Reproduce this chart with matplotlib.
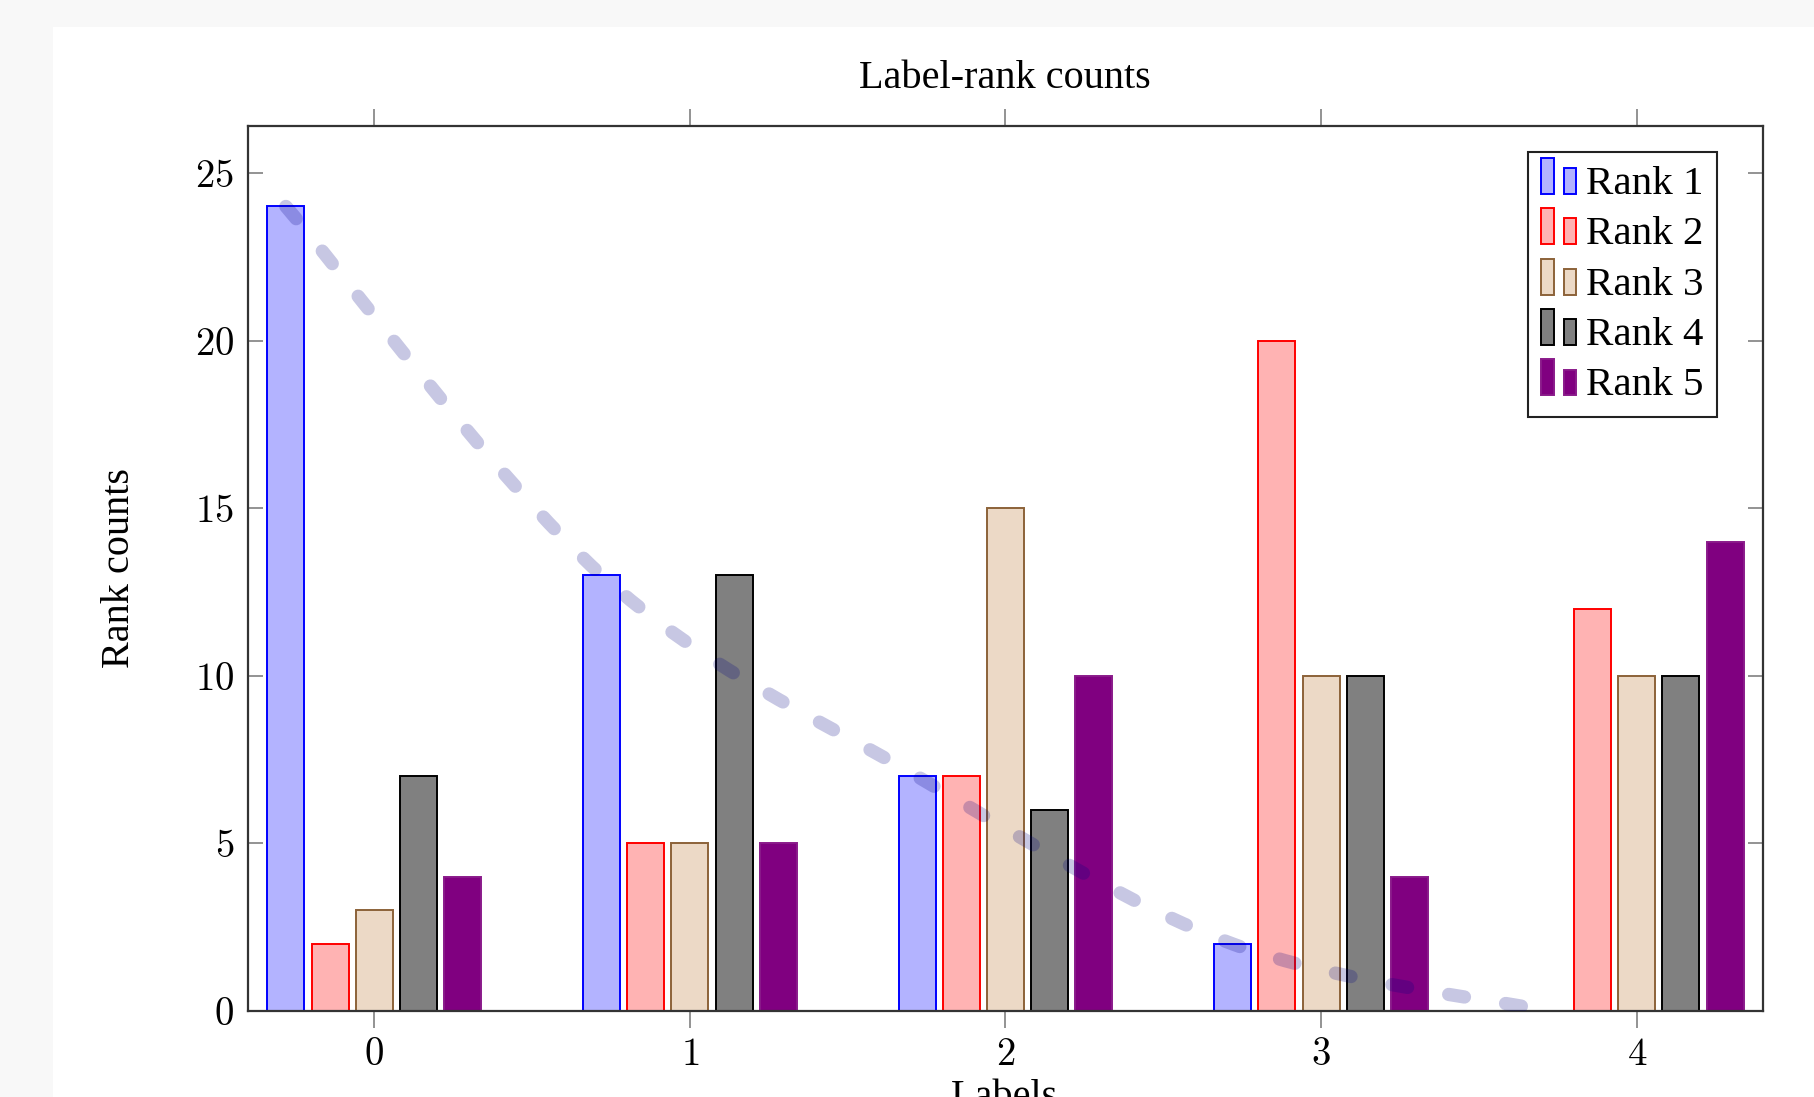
import matplotlib
matplotlib.use("Agg")
import matplotlib.pyplot as plt
import numpy as np
from matplotlib.patches import Rectangle, PathPatch, Patch
from matplotlib.path import Path

# data
labels = [0, 1, 2, 3, 4]
rank1 = [24, 13, 7, 2, 0]
rank2 = [2, 5, 7, 20, 12]
rank3 = [3, 5, 15, 10, 10]
rank4 = [7, 13, 6, 10, 10]
rank5 = [4, 5, 10, 4, 14]
series = [rank1, rank2, rank3, rank4, rank5]
names = ["Rank 1", "Rank 2", "Rank 3", "Rank 4", "Rank 5"]
yticks = [0, 5, 10, 15, 20, 25]

fills = ["#b3b3ff", "#ffb3b3", "#ecd9c6", "#808080", "#800080"]
edges = ["#0000ff", "#ff0000", "#8c6239", "#000000", "#8a1a8a"]

plt.rcParams["font.family"] = ["Liberation Serif", "DejaVu Serif"]
plt.rcParams["mathtext.fontset"] = "cm"
plt.rcParams["lines.scale_dashes"] = False

W, H = 1815, 1097
fig = plt.figure(figsize=(W / 100, H / 100), dpi=100, facecolor="#f8f8f8")
fig.add_artist(Rectangle((53 / W, 0), 1, 1 - 27 / H, transform=fig.transFigure,
                         facecolor="white", edgecolor="none", zorder=-10))

ax = fig.add_axes([248 / W, 1 - 1011 / H, (1763 - 248) / W, (1011 - 126) / H])

x = np.arange(len(labels))
width = 0.117
step = 0.14
for i, vals in enumerate(series):
    ax.bar(x + (i - 2) * step, vals, width=width, color=fills[i],
           edgecolor=edges[i], linewidth=1.4, zorder=2)

# smooth dashed curve through the tops of the Rank 1 bars
pts = np.column_stack([x - 2 * step, rank1]).astype(float)
n = len(pts)
verts = [tuple(pts[0])]
codes = [Path.MOVETO]
for i in range(n - 1):
    p0 = pts[i - 1] if i > 0 else pts[i]
    p1, p2 = pts[i], pts[i + 1]
    p3 = pts[i + 2] if i + 2 < n else pts[i + 1]
    c1 = p1 + (p2 - p0) / 6
    c2 = p2 - (p3 - p1) / 6
    verts += [tuple(c1), tuple(c2), tuple(p2)]
    codes += [Path.CURVE4] * 3
curve = PathPatch(Path(verts, codes), fill=False, edgecolor=(0, 0, 0.5, 0.22),
                  linewidth=9.6, linestyle=(0, (11.5, 30)), capstyle="round",
                  zorder=3)
ax.add_patch(curve)

ax.set_xlim(-0.4, 4.4)
ax.set_ylim(0, 26.4)
ax.set_xticks(x)
ax.set_xticklabels([f"${v}$" for v in labels])
ax.set_yticks(yticks)
ax.set_yticklabels([f"${v}$" for v in yticks])

for s in ax.spines.values():
    s.set_color("#333333")
    s.set_linewidth(1.6)
ax.tick_params(axis="x", direction="out", length=12, width=1.2, color="#808080",
               top=True, labelsize=28, pad=7)
ax.tick_params(axis="y", direction="in", length=11, width=1.2, color="#808080",
               right=True, labelsize=28, pad=10)


class TwoBars:
    def legend_artist(self, legend, orig_handle, fontsize, handlebox):
        x0, y0 = handlebox.xdescent, handlebox.ydescent
        w, h = handlebox.width, handlebox.height
        fc = orig_handle.get_facecolor()
        ec = orig_handle.get_edgecolor()
        r1 = Rectangle((-x0, -y0), w * 0.36, h * 1.25, facecolor=fc, edgecolor=ec,
                       linewidth=1.4, transform=handlebox.get_transform())
        r2 = Rectangle((-x0 + w * 0.66, -y0), w * 0.34, h * 0.9, facecolor=fc,
                       edgecolor=ec, linewidth=1.4, transform=handlebox.get_transform())
        handlebox.add_artist(r1)
        handlebox.add_artist(r2)
        return r1


handles = [Patch(facecolor=fills[i], edgecolor=edges[i]) for i in range(5)]
leg = fig.legend(handles, names, handler_map={Patch: TwoBars()},
                 loc="upper right", bbox_to_anchor=(1717 / W, 1 - 152 / H),
                 fontsize=29.5, frameon=True, fancybox=False, framealpha=1,
                 edgecolor="#222222", handlelength=0.85, handleheight=0.7,
                 handletextpad=0.25, labelspacing=0.31, borderpad=0.32,
                 borderaxespad=0)
leg.get_frame().set_linewidth(1.5)

fig.text(1005 / W, 1 - 88 / H, "Label-rank counts", ha="center", va="baseline",
         fontsize=29)
fig.text(120 / W, 1 - 568 / H, "Rank counts", ha="center", va="center",
         rotation=90, fontsize=29)
fig.text(1005 / W, 1 - 1079 / H, "Labels", ha="center", va="top", fontsize=29)

fig.savefig("out.png", dpi=100, facecolor=fig.get_facecolor())
